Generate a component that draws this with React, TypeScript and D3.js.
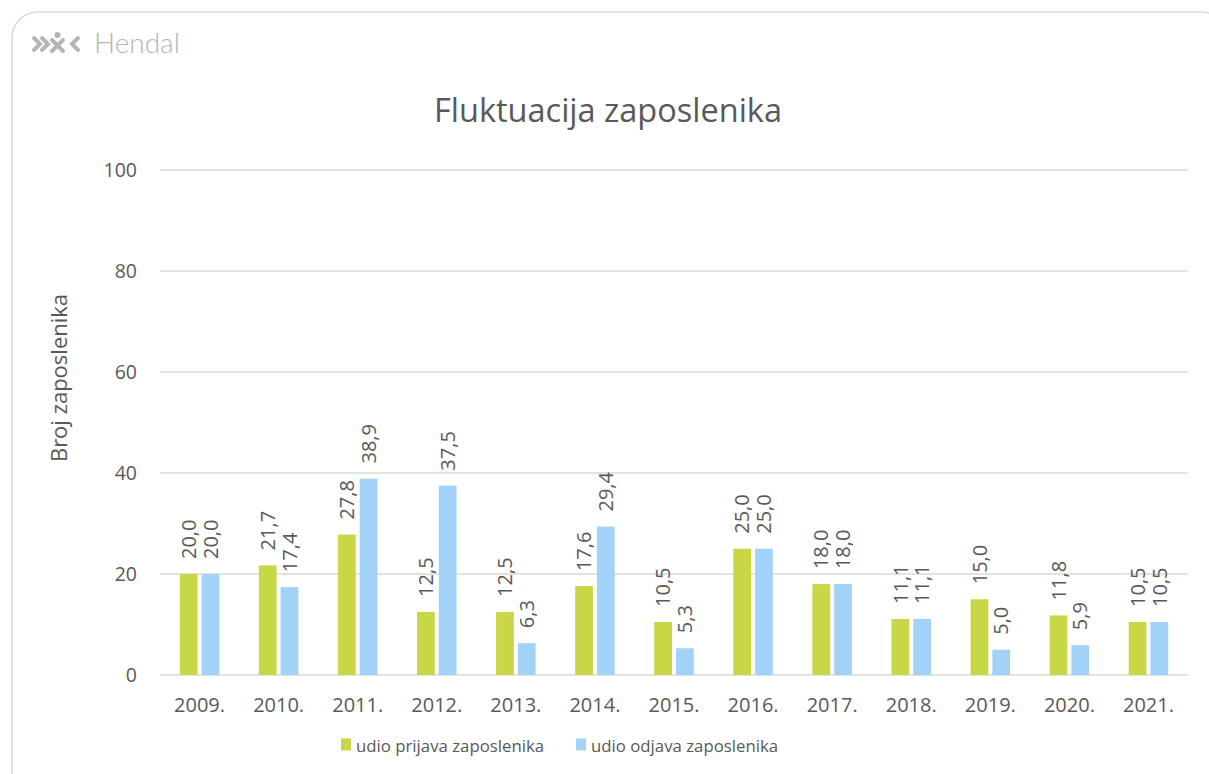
import React from "react";
import * as d3 from "d3";

const years = ["2009.", "2010.", "2011.", "2012.", "2013.", "2014.", "2015.", "2016.", "2017.", "2018.", "2019.", "2020.", "2021."];
const prijava = [20.0, 21.7, 27.8, 12.5, 12.5, 17.6, 10.5, 25.0, 18.0, 11.1, 15.0, 11.8, 10.5];
const odjava = [20.0, 17.4, 38.9, 37.5, 6.3, 29.4, 5.3, 25.0, 18.0, 11.1, 5.0, 5.9, 10.5];
const yTicks = [0, 20, 40, 60, 80, 100];
const seriesNames = ["udio prijava zaposlenika", "udio odjava zaposlenika"];
const colors = ["#c9d645", "#a3d2f9"];

const W = 1209, H = 774;
const FONT = "'Open Sans', sans-serif";
const TXT = "#595959";

export default function App() {
  const x0 = d3.scaleBand<string>().domain(years).range([160, 1188]).paddingInner(0.5).paddingOuter(0.25);
  const x1 = d3.scaleBand<number>().domain([0, 1]).range([0, x0.bandwidth()]).paddingInner(0.185);
  const y = d3.scaleLinear().domain([0, 100]).range([675, 170]);
  const series = [prijava, odjava];
  const fmt = (v: number) => v.toFixed(1).replace(".", ",");

  return (
    <svg width={W} height={H} style={{ position: "absolute", left: 0, top: 0, background: "#fff" }} fontFamily={FONT}>
      <rect x={12} y={12} width={1215} height={800} rx={26} fill="#fff" stroke="#d9d9d9" strokeWidth={1.5} />
      {/* logo */}
      <g fill="#b5b5b5" stroke="#b5b5b5" strokeLinecap="round">
        <path d="M34,38 L40,44 L34,50" fill="none" strokeWidth={4} />
        <path d="M42,38 L48,44 L42,50" fill="none" strokeWidth={4} />
        <path d="M52,40 L63,51 M63,40 L52,51" fill="none" strokeWidth={4} />
        <circle cx={57.5} cy={35} r={3} stroke="none" />
        <path d="M78,38 L72,44 L78,50" fill="none" strokeWidth={4} />
      </g>
      <text x={94} y={53} fontSize={28} fill="#b5b5b5" fontFamily="Lato, sans-serif" fontWeight={300}>Hendal</text>
      <text x={608} y={122} fontSize={32.5} fill={TXT} textAnchor="middle">Fluktuacija zaposlenika</text>
      {/* grid */}
      {yTicks.map((t) => (
        <g key={t}>
          <line x1={160} x2={1188} y1={y(t)} y2={y(t)} stroke="#d9d9d9" strokeWidth={1.5} />
          <text x={137} y={y(t)} dy="0.35em" fontSize={19.5} fill={TXT} textAnchor="end">{t}</text>
        </g>
      ))}
      <text transform={`translate(67,378) rotate(-90)`} fontSize={22} fill={TXT} textAnchor="middle">Broj zaposlenika</text>
      {/* bars */}
      {years.map((yr, i) => (
        <g key={yr} transform={`translate(${x0(yr)},0)`}>
          {series.map((s, k) => {
            const bx = x1(k)!;
            const bw = x1.bandwidth();
            return (
              <g key={k}>
                <rect x={bx} y={y(s[i])} width={bw} height={y(0) - y(s[i])} fill={colors[k]} />
                <text transform={`translate(${bx + bw / 2},${y(s[i]) - 15}) rotate(-90)`} dy="0.36em" fontSize={20} fill={TXT} textAnchor="start">{fmt(s[i])}</text>
              </g>
            );
          })}
          <text x={x0.bandwidth() / 2} y={712} fontSize={20} fill={TXT} textAnchor="middle">{yr}</text>
        </g>
      ))}
      {/* legend */}
      {seriesNames.map((n, k) => {
        const lx = k === 0 ? 341 : 576;
        return (
          <g key={n}>
            <rect x={lx} y={738.5} width={10} height={12} fill={colors[k]} />
            <text x={lx + 15} y={752} fontSize={16.8} fill={TXT}>{n}</text>
          </g>
        );
      })}
    </svg>
  );
}
